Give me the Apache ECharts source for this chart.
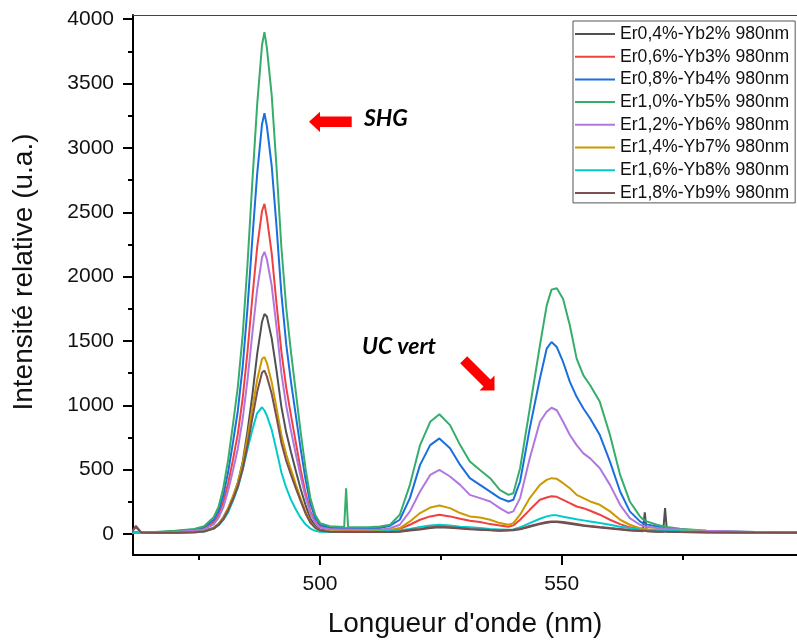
<!DOCTYPE html>
<html>
<head>
<meta charset="utf-8">
<script src="https://cdn.jsdelivr.net/npm/echarts@6/dist/echarts.min.js"></script>
<style>
html,body{margin:0;padding:0;background:#fff;}
#chart{width:797px;height:643px;}
</style>
</head>
<body>
<div id="chart"></div>
<script>
// Wavelengths (nm)
const wavelengths = [461,461.9,463,465,470,474,476,478,479,480,481,482,483,484,485,486,487,488,488.5,489,490,491,492,493,494,495,496,497,498,499,500,502,505,505.4,505.8,508,510,512.4,514.5,516.5,518.6,520.7,522.8,524.7,526.9,529,531,533.1,535.2,537.2,539,540,541.4,543.4,545.5,546.9,547.9,549,550.3,551.7,553.1,554.5,555.9,557.9,560,562.1,564.1,566.2,566.8,567.2,567.6,569.7,571,571.4,571.8,574.5,580,590,600];

const seriesNames = ["Er0,4%-Yb2% 980nm","Er0,6%-Yb3% 980nm","Er0,8%-Yb4% 980nm","Er1,0%-Yb5% 980nm","Er1,2%-Yb6% 980nm","Er1,4%-Yb7% 980nm","Er1,6%-Yb8% 980nm","Er1,8%-Yb9% 980nm"];

const er04 = [15,55,12,10,12,18,25,50,80,130,200,290,400,560,800,1080,1400,1650,1710,1690,1520,1270,990,790,635,490,350,225,120,65,35,22,18,18,18,17,16,15,16,18,28,36,47,52,48,42,37,33,29,26,28,30,37,57,77,88,93,93,88,80,72,65,58,50,42,35,28,23,22,168,21,18,17,201,17,15,12,10,10];
const er06 = [10,12,10,11,18,28,42,90,150,250,395,580,780,1055,1420,1840,2230,2510,2565,2460,2180,1790,1420,1140,920,710,500,320,175,95,55,40,32,32,32,30,28,25,30,40,72,111,137,150,137,119,103,93,77,67,57,67,111,188,266,284,294,289,266,240,214,201,181,150,111,77,52,40,37,35,34,28,26,25,25,22,16,12,10];
const er08 = [10,12,10,12,22,35,52,110,180,300,485,715,960,1300,1760,2295,2800,3185,3270,3170,2860,2390,1870,1475,1180,920,660,425,235,125,70,50,45,45,45,44,44,46,65,111,279,537,691,743,666,537,434,382,330,279,253,266,408,821,1208,1440,1492,1453,1337,1182,1066,975,898,769,563,330,176,98,85,80,75,59,50,48,46,35,22,14,12];
const er10 = [12,14,12,14,25,40,60,130,210,360,580,855,1145,1550,2100,2740,3340,3800,3900,3780,3410,2850,2230,1760,1410,1100,790,510,280,150,85,60,55,356,55,52,52,59,72,150,382,691,872,931,846,691,563,498,434,343,304,317,511,975,1466,1775,1899,1910,1827,1620,1363,1233,1156,1027,769,459,253,137,115,105,98,72,60,57,54,41,25,15,12];
const er12 = [10,12,10,11,16,25,36,75,125,210,340,495,665,895,1200,1560,1900,2150,2193,2135,1930,1610,1250,1000,800,620,445,290,160,88,50,38,35,35,35,34,33,33,45,72,176,330,459,498,447,382,304,279,253,201,163,176,279,588,872,950,981,962,872,769,691,627,588,511,382,227,124,72,64,60,57,46,42,41,40,35,25,15,12];
const er14 = [10,11,10,10,10,15,22,45,75,125,200,295,400,550,750,980,1200,1360,1375,1330,1180,980,770,620,500,385,275,175,95,52,30,22,20,20,20,20,20,26,32,46,98,163,206,222,201,163,137,129,111,85,72,85,150,279,382,421,434,429,395,356,304,279,253,227,176,111,72,46,42,40,38,33,30,29,28,24,18,12,10];
const er16 = [10,11,10,10,8,12,20,42,68,110,170,260,360,500,660,810,940,985,960,920,810,650,480,360,265,190,125,75,42,25,18,15,15,15,15,16,17,20,24,30,40,54,67,72,67,57,52,46,39,36,33,36,52,85,119,137,145,145,134,124,114,106,98,85,72,57,46,36,34,33,32,28,26,25,25,22,16,12,10];
const er18 = [15,64,12,10,10,14,20,42,70,115,185,272,370,505,690,900,1105,1255,1270,1225,1090,905,710,570,460,355,255,160,88,48,28,18,16,16,16,15,15,15,17,20,33,40,52,57,52,46,40,36,31,28,31,33,40,62,82,93,98,98,93,85,77,69,62,54,46,39,31,26,25,24,23,20,18,18,18,16,13,11,10];

const allValues = [er04, er06, er08, er10, er12, er14, er16, er18];
const colors = ["#515151","#F14040","#1A6FDF","#37AD6B","#B177DE","#CC9900","#00CBCC","#7D4E4E"];

const xMajorTicks = [500, 550];
const xMinorTicks = [475, 525, 575];
const yMajorTicks = [0,500,1000,1500,2000,2500,3000,3500,4000];
const yMinorTicks = [250,750,1250,1750,2250,2750,3250,3750];

const FONT = '"Liberation Sans", Arial, sans-serif';

const chart = echarts.init(document.getElementById('chart'), null, {renderer: 'canvas'});

const series = allValues.map((vals, k) => ({
  name: seriesNames[k],
  type: 'line',
  xAxisIndex: 0,
  yAxisIndex: 0,
  symbol: 'none',
  showSymbol: false,
  smooth: false,
  color: colors[k],
  lineStyle: {width: 2, color: colors[k]},
  data: wavelengths.map((w, i) => [w, vals[i]])
}));

const XMIN = 461.3, XMAX = 598.7, YMIN = -163, YMAX = 4033;

const option = {
  animation: false,
  backgroundColor: '#fff',
  grid: {left: 133, right: 0, top: 15, bottom: 86, containLabel: false},
  xAxis: [
    {
      type: 'value', position: 'bottom', min: XMIN, max: XMAX,
      axisLine: {show: true, onZero: false, lineStyle: {color: '#000', width: 2}},
      axisTick: {show: true, customValues: xMajorTicks, length: 10, lineStyle: {color: '#000', width: 2}},
      axisLabel: {show: true, customValues: xMajorTicks, fontSize: 21, fontFamily: FONT, color: '#111', margin: 19,
        formatter: v => String(v)},
      splitLine: {show: false},
      name: "Longueur d'onde (nm)", nameLocation: 'middle', nameGap: 55,
      nameTextStyle: {fontSize: 28, fontFamily: FONT, color: '#111'}
    },
    {
      type: 'value', position: 'bottom', min: XMIN, max: XMAX,
      axisLine: {show: false, onZero: false},
      axisTick: {show: true, customValues: xMinorTicks, length: 5, lineStyle: {color: '#000', width: 2}},
      axisLabel: {show: false},
      splitLine: {show: false}
    },
    {
      type: 'value', position: 'top', min: XMIN, max: XMAX,
      axisLine: {show: true, onZero: false, lineStyle: {color: '#444', width: 1}},
      axisTick: {show: false}, axisLabel: {show: false}, splitLine: {show: false}
    }
  ],
  yAxis: [
    {
      type: 'value', position: 'left', min: YMIN, max: YMAX,
      axisLine: {show: true, onZero: false, lineStyle: {color: '#000', width: 2}},
      axisTick: {show: true, customValues: yMajorTicks, length: 10, lineStyle: {color: '#000', width: 2}},
      axisLabel: {show: true, customValues: yMajorTicks, fontSize: 21, fontFamily: FONT, color: '#111', margin: 19,
        formatter: v => String(v)},
      splitLine: {show: false}
    },
    {
      type: 'value', position: 'left', min: YMIN, max: YMAX,
      axisLine: {show: false, onZero: false},
      axisTick: {show: true, customValues: yMinorTicks, length: 5, lineStyle: {color: '#000', width: 2}},
      axisLabel: {show: false},
      splitLine: {show: false}
    }
  ],
  legend: {
    orient: 'vertical', left: 573, top: 21,
    padding: [4, 6, 1, 2],
    icon: 'rect',
    itemWidth: 40, itemHeight: 2, itemGap: 4.7,
    borderColor: '#555', borderWidth: 1, backgroundColor: '#fff',
    textStyle: {fontSize: 17.6, fontFamily: FONT, color: '#111', lineHeight: 18},
    data: seriesNames
  },
  graphic: [
    {
      type: 'text', x: 24, y: 272, rotation: Math.PI / 2,
      style: {text: 'Intensité relative (u.a.)', font: '28px ' + FONT, fill: '#111',
        align: 'center', verticalAlign: 'middle', textAlign: 'center', textVerticalAlign: 'middle'}
    },
    {
      type: 'text', x: 364, y: 118.5,
      style: {text: 'SHG', font: 'italic bold 23px Lato, "Open Sans", sans-serif', fill: '#000',
        align: 'left', verticalAlign: 'middle', textAlign: 'left', textVerticalAlign: 'middle'}
    },
    {
      type: 'text', x: 362, y: 347,
      style: {text: 'UC vert', font: 'italic bold 23px Lato, "Open Sans", sans-serif', fill: '#000',
        align: 'left', verticalAlign: 'middle', textAlign: 'left', textVerticalAlign: 'middle'}
    },
    {
      type: 'polygon',
      shape: {points: [[309,121.7],[320,111.7],[320,116.5],[351.7,116.5],[351.7,127],[320,127],[320,132]]},
      style: {fill: '#FF0000'}
    },
    {
      type: 'polygon',
      shape: {points: [[494.5,390.5],[479.5,390.5],[483.5,386.5],[460.2,363.2],[467.2,356.2],[490.5,379.5],[494.5,375.5]]},
      style: {fill: '#FF0000'}
    }
  ],
  series: series
};

chart.setOption(option);
</script>
</body>
</html>
